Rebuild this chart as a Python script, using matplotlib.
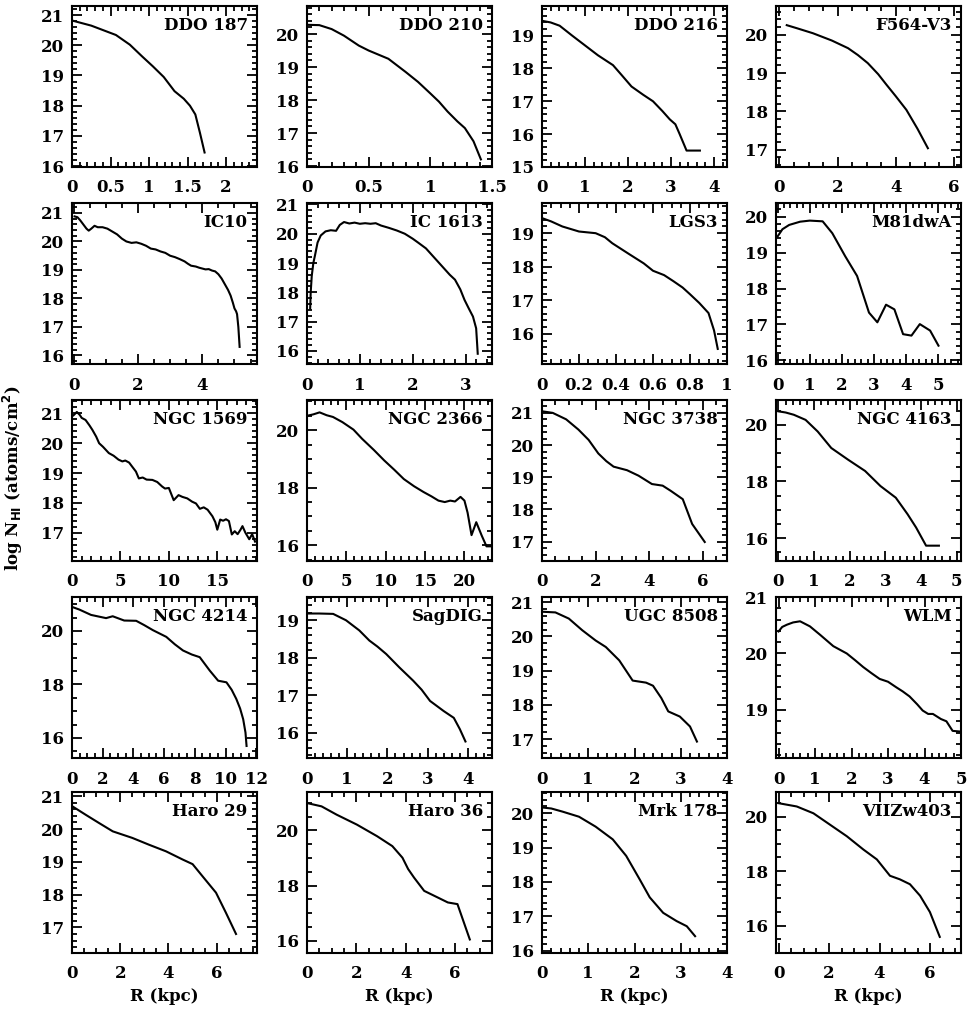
import matplotlib.pyplot as plt
from matplotlib.ticker import MultipleLocator, FuncFormatter

plt.rcParams['font.family'] = 'DejaVu Serif'
plt.rcParams['font.weight'] = 'bold'
plt.rcParams['axes.labelweight'] = 'bold'

names = ['DDO 187', 'DDO 210', 'DDO 216', 'F564-V3',
         'IC10', 'IC 1613', 'LGS3', 'M81dwA',
         'NGC 1569', 'NGC 2366', 'NGC 3738', 'NGC 4163',
         'NGC 4214', 'SagDIG', 'UGC 8508', 'WLM',
         'Haro 29', 'Haro 36', 'Mrk 178', 'VIIZw403']

# radial HI column density profiles: R in kpc, log N_HI in atoms/cm^2
r_ddo187 = [0.0, 0.25, 0.57, 0.75, 0.91, 1.05, 1.19, 1.33, 1.45, 1.53, 1.6, 1.66, 1.72]
n_ddo187 = [20.82, 20.65, 20.34, 20.02, 19.63, 19.3, 18.95, 18.48, 18.23, 18.0, 17.71, 17.1, 16.45]

r_ddo210 = [0.0, 0.1, 0.2, 0.3, 0.42, 0.5, 0.66, 0.8, 0.9, 1.0, 1.07, 1.14, 1.22, 1.28, 1.35, 1.41]
n_ddo210 = [20.28, 20.27, 20.15, 19.95, 19.65, 19.5, 19.25, 18.85, 18.55, 18.2, 17.95, 17.65, 17.35, 17.15, 16.75, 16.2]

r_ddo216 = [0.0, 0.2, 0.41, 0.7, 1.0, 1.3, 1.65, 1.85, 2.08, 2.35, 2.58, 2.8, 2.97, 3.1, 3.2, 3.36, 3.67]
n_ddo216 = [19.45, 19.4, 19.3, 19.0, 18.7, 18.4, 18.1, 17.8, 17.45, 17.2, 17.0, 16.7, 16.45, 16.3, 16.0, 15.5, 15.5]

r_f564 = [0.25, 0.6, 1.15, 1.8, 2.36, 2.7, 3.04, 3.4, 3.68, 4.0, 4.37, 4.75, 5.11]
n_f564 = [20.25, 20.17, 20.04, 19.85, 19.65, 19.47, 19.26, 18.97, 18.7, 18.4, 18.04, 17.55, 17.04]

r_ic10 = [0.03, 0.12, 0.2, 0.3, 0.4, 0.47, 0.55, 0.65, 0.75, 0.9, 1.05, 1.2, 1.35, 1.5, 1.64,
          1.8, 1.95, 2.1, 2.25, 2.4, 2.55, 2.7, 2.85, 3.0, 3.15, 3.3, 3.45, 3.55, 3.65, 3.8,
          3.9, 4.0, 4.1, 4.2, 4.3, 4.4, 4.5, 4.6, 4.7, 4.8, 4.88, 4.95, 5.0, 5.05, 5.08, 5.12, 5.16]
n_ic10 = [20.88, 20.85, 20.75, 20.6, 20.45, 20.38, 20.45, 20.55, 20.5, 20.5, 20.45, 20.35, 20.25, 20.1, 20.0,
          19.95, 19.97, 19.92, 19.85, 19.75, 19.72, 19.65, 19.6, 19.5, 19.45, 19.38, 19.3, 19.22, 19.15, 19.12,
          19.08, 19.05, 19.02, 19.03, 18.98, 18.95, 18.85, 18.7, 18.5, 18.3, 18.1, 17.85, 17.65, 17.55, 17.45, 17.0, 16.3]

r_ic1613 = [0.06, 0.07, 0.09, 0.12, 0.15, 0.2, 0.26, 0.35, 0.45, 0.55, 0.62, 0.7, 0.8, 0.9, 1.0,
            1.1, 1.2, 1.3, 1.4, 1.55, 1.7, 1.85, 2.0, 2.1, 2.25, 2.4, 2.5, 2.6, 2.7, 2.8,
            2.9, 2.98, 3.06, 3.14, 3.2, 3.22, 3.23]
n_ic1613 = [17.45, 18.0, 18.56, 19.0, 19.25, 19.7, 19.94, 20.08, 20.12, 20.1, 20.3, 20.4, 20.35, 20.38, 20.34,
            20.36, 20.34, 20.36, 20.28, 20.2, 20.11, 20.0, 19.83, 19.7, 19.5, 19.2, 19.0, 18.8, 18.6, 18.43,
            18.1, 17.74, 17.45, 17.17, 16.77, 16.2, 15.9]

r_lgs3 = [0.0, 0.05, 0.11, 0.2, 0.29, 0.34, 0.38, 0.47, 0.55, 0.6, 0.66, 0.71, 0.76, 0.8, 0.85, 0.9, 0.93, 0.95]
n_lgs3 = [19.45, 19.35, 19.2, 19.05, 19.0, 18.88, 18.7, 18.38, 18.1, 17.88, 17.75, 17.57, 17.38, 17.18, 16.92, 16.62, 16.1, 15.55]

r_m81dwa = [0.0, 0.15, 0.36, 0.7, 1.0, 1.4, 1.7, 2.1, 2.47, 2.84, 3.1, 3.37, 3.63, 3.9, 4.16, 4.42, 4.74, 5.0]
n_m81dwa = [19.45, 19.65, 19.77, 19.86, 19.89, 19.87, 19.54, 18.9, 18.35, 17.33, 17.06, 17.55, 17.42, 16.73, 16.69, 17.01, 16.83, 16.41]

r_ngc1569 = [0.0, 0.2, 0.5, 0.8, 1.0, 1.4, 1.8, 2.1, 2.5, 2.8, 3.2, 3.8, 4.3, 4.8, 5.2, 5.5, 5.9, 6.2,
             6.6, 6.9, 7.3, 7.7, 8.3, 8.8, 9.3, 9.6, 10.0, 10.5, 11.0, 11.4, 11.9, 12.4, 12.8, 13.2,
             13.6, 14.0, 14.5, 14.8, 15.0, 15.3, 15.6, 15.9, 16.2, 16.5, 16.8, 17.1, 17.4, 17.6, 17.9,
             18.3, 18.6, 18.9]
n_ngc1569 = [20.9, 20.95, 21.05, 20.95, 20.85, 20.78, 20.6, 20.45, 20.22, 20.0, 19.88, 19.67, 19.58, 19.45,
             19.39, 19.42, 19.35, 19.22, 19.05, 18.82, 18.85, 18.78, 18.77, 18.7, 18.55, 18.48, 18.5, 18.09,
             18.26, 18.2, 18.15, 18.04, 17.98, 17.8, 17.85, 17.77, 17.55, 17.35, 17.1, 17.44, 17.4, 17.45,
             17.39, 16.94, 17.05, 16.95, 17.1, 17.22, 17.0, 16.78, 16.95, 16.7]

r_ngc2366 = [0.0, 0.8, 1.6, 2.5, 3.3, 4.5, 5.9, 7.0, 8.5, 9.8, 11.1, 12.3, 13.6, 14.8, 15.8, 16.7,
             17.5, 18.2, 18.8, 19.5, 20.0, 20.4, 20.9, 21.5, 22.2, 22.8, 23.3]
n_ngc2366 = [20.5, 20.55, 20.62, 20.52, 20.46, 20.28, 20.02, 19.7, 19.31, 18.95, 18.62, 18.3, 18.05,
             17.85, 17.7, 17.55, 17.5, 17.55, 17.52, 17.68, 17.55, 17.13, 16.35, 16.8, 16.33, 15.96, 15.96]

r_ngc3738 = [0.0, 0.4, 0.9, 1.36, 1.74, 2.1, 2.4, 2.67, 3.17, 3.6, 4.1, 4.5, 4.8, 5.25, 5.6, 6.07]
n_ngc3738 = [21.05, 21.0, 20.8, 20.48, 20.16, 19.74, 19.5, 19.33, 19.22, 19.05, 18.79, 18.74, 18.58, 18.32, 17.55, 16.99]

r_ngc4163 = [0.0, 0.2, 0.43, 0.76, 1.1, 1.48, 1.95, 2.43, 2.86, 3.29, 3.62, 3.86, 4.14, 4.5]
n_ngc4163 = [20.47, 20.43, 20.35, 20.17, 19.76, 19.18, 18.77, 18.37, 17.84, 17.43, 16.85, 16.38, 15.74, 15.74]

r_ngc4214 = [0.0, 0.48, 1.24, 2.22, 2.65, 3.4, 4.18, 4.7, 5.27, 6.14, 6.7, 7.23, 7.8, 8.32, 8.97,
             9.52, 10.06, 10.4, 10.7, 10.95, 11.15, 11.3, 11.37]
n_ngc4214 = [20.9, 20.8, 20.6, 20.48, 20.55, 20.39, 20.38, 20.22, 20.03, 19.78, 19.5, 19.27, 19.12,
             19.02, 18.52, 18.14, 18.08, 17.8, 17.46, 17.1, 16.7, 16.2, 15.7]

r_sagdig = [0.0, 0.3, 0.65, 0.97, 1.3, 1.55, 1.75, 1.97, 2.3, 2.64, 2.85, 3.06, 3.4, 3.65, 3.8, 3.94]
n_sagdig = [19.18, 19.18, 19.17, 19.0, 18.73, 18.46, 18.3, 18.1, 17.74, 17.39, 17.15, 16.85, 16.58, 16.4, 16.1, 15.77]

r_ugc8508 = [0.0, 0.29, 0.58, 0.87, 1.16, 1.38, 1.67, 1.96, 2.25, 2.4, 2.58, 2.73, 2.98, 3.2, 3.35]
n_ugc8508 = [20.72, 20.7, 20.52, 20.18, 19.88, 19.69, 19.3, 18.71, 18.65, 18.56, 18.2, 17.81, 17.66, 17.37, 16.93]

r_wlm = [0.0, 0.1, 0.23, 0.4, 0.59, 0.86, 1.14, 1.5, 1.87, 2.1, 2.32, 2.55, 2.77, 3.0, 3.23, 3.4,
         3.59, 3.8, 3.95, 4.1, 4.23, 4.45, 4.6, 4.77, 4.95]
n_wlm = [20.39, 20.47, 20.51, 20.55, 20.57, 20.48, 20.33, 20.13, 20.0, 19.88, 19.76, 19.65, 19.55,
         19.5, 19.4, 19.33, 19.24, 19.1, 18.99, 18.93, 18.93, 18.84, 18.8, 18.63, 18.62]

r_haro29 = [0.0, 0.58, 1.13, 1.69, 2.5, 3.2, 3.9, 4.59, 5.0, 5.4, 5.97, 6.38, 6.8]
n_haro29 = [20.7, 20.43, 20.18, 19.93, 19.73, 19.52, 19.32, 19.07, 18.93, 18.57, 18.06, 17.45, 16.8]

r_haro36 = [0.0, 0.59, 1.2, 2.02, 2.84, 3.46, 3.87, 4.1, 4.34, 4.75, 5.3, 5.71, 6.1, 6.6]
n_haro36 = [20.99, 20.87, 20.57, 20.21, 19.79, 19.43, 19.01, 18.6, 18.29, 17.81, 17.57, 17.39, 17.33, 16.05]

r_mrk178 = [0.0, 0.2, 0.44, 0.8, 1.16, 1.53, 1.82, 2.11, 2.33, 2.62, 2.91, 3.13, 3.31]
n_mrk178 = [20.17, 20.14, 20.05, 19.9, 19.61, 19.24, 18.76, 18.08, 17.55, 17.1, 16.86, 16.71, 16.42]

r_viizw403 = [0.0, 0.72, 1.38, 2.04, 2.7, 3.36, 3.89, 4.41, 4.8, 5.2, 5.6, 5.99, 6.38]
n_viizw403 = [20.49, 20.37, 20.12, 19.7, 19.28, 18.79, 18.43, 17.83, 17.7, 17.52, 17.1, 16.5, 15.59]

radii = [r_ddo187, r_ddo210, r_ddo216, r_f564, r_ic10, r_ic1613, r_lgs3, r_m81dwa,
         r_ngc1569, r_ngc2366, r_ngc3738, r_ngc4163, r_ngc4214, r_sagdig, r_ugc8508, r_wlm,
         r_haro29, r_haro36, r_mrk178, r_viizw403]
logn = [n_ddo187, n_ddo210, n_ddo216, n_f564, n_ic10, n_ic1613, n_lgs3, n_m81dwa,
        n_ngc1569, n_ngc2366, n_ngc3738, n_ngc4163, n_ngc4214, n_sagdig, n_ugc8508, n_wlm,
        n_haro29, n_haro36, n_mrk178, n_viizw403]

# per panel: x range, y range, (x major, x minor), (y major, y minor)
frames = [
    ((0, 2.4), (15.97, 21.3), (0.5, 0.1), (1, 0.2)),
    ((0, 1.5), (15.97, 20.85), (0.5, 0.1), (1, 0.2)),
    ((0, 4.3), (15.0, 19.9), (1, 0.2), (1, 0.2)),
    ((-0.12, 6.25), (16.55, 20.75), (2, 0.5), (1, 0.2)),
    ((-0.05, 5.7), (15.7, 21.35), (2, 0.5), (1, 0.2)),
    ((0, 3.5), (15.55, 21.05), (1, 0.2), (1, 0.2)),
    ((0, 1.0), (15.1, 19.9), (0.2, 0.05), (1, 0.2)),
    ((-0.05, 5.7), (15.9, 20.38), (1, 0.2), (1, 0.2)),
    ((0, 19.1), (16.05, 21.45), (5, 1), (1, 0.2)),
    ((0, 23.5), (15.45, 21.05), (5, 1), (2, 0.5)),
    ((0, 6.9), (16.4, 21.4), (2, 0.5), (1, 0.2)),
    ((-0.07, 5.12), (15.2, 20.87), (1, 0.2), (2, 0.5)),
    ((0, 12.05), (15.25, 21.27), (2, 0.5), (2, 0.5)),
    ((0, 4.6), (15.33, 19.62), (1, 0.2), (1, 0.2)),
    ((0, 4.0), (16.45, 21.15), (1, 0.2), (1, 0.2)),
    ((-0.07, 5.0), (18.15, 21.0), (1, 0.2), (1, 0.2)),
    ((0, 7.67), (16.22, 21.13), (2, 0.5), (1, 0.2)),
    ((0, 7.5), (15.56, 21.39), (2, 0.5), (2, 0.5)),
    ((0, 4.0), (15.93, 20.62), (1, 0.2), (1, 0.2)),
    ((-0.1, 7.22), (15.0, 20.9), (2, 0.5), (2, 0.5)),
]

W, H = 967, 1015
lefts = [72, 307, 542, 776]
tops = [6, 203, 400, 597, 792]
pw, ph = 185, 161

fmt = FuncFormatter(lambda v, p: f'{round(v, 3) + 0:g}')

fig = plt.figure(figsize=(W / 100, H / 100), dpi=100)

for i, name in enumerate(names):
    row, col = divmod(i, 4)
    ax = fig.add_axes([lefts[col] / W, 1 - (tops[row] + ph) / H, pw / W, ph / H])
    ax.plot(radii[i], logn[i], color='black', lw=1.5)

    xr, yr, (xmaj, xmin), (ymaj, ymin) = frames[i]
    ax.set_xlim(*xr)
    ax.set_ylim(*yr)
    ax.xaxis.set_major_locator(MultipleLocator(xmaj))
    ax.xaxis.set_minor_locator(MultipleLocator(xmin))
    ax.yaxis.set_major_locator(MultipleLocator(ymaj))
    ax.yaxis.set_minor_locator(MultipleLocator(ymin))
    ax.xaxis.set_major_formatter(fmt)
    ax.yaxis.set_major_formatter(fmt)

    ax.tick_params(which='both', direction='in', top=True, right=True, width=1.3)
    ax.tick_params(which='major', length=7, labelsize=12)
    ax.tick_params(axis='x', which='major', pad=9)
    ax.tick_params(axis='y', which='major', pad=6)
    ax.tick_params(which='minor', length=3.5)
    for s in ax.spines.values():
        s.set_linewidth(1.5)

    ax.text(0.95, 0.93, name, transform=ax.transAxes, ha='right', va='top', fontsize=12)

    if row == 4:
        ax.set_xlabel('R (kpc)', fontsize=12, labelpad=4)

fig.text(0.013, 0.529, r'log N$_{\mathbf{HI}}$ (atoms/cm$^{\mathbf{2}}$)',
         rotation=90, ha='center', va='center', fontsize=12)

fig.savefig('out.png', dpi=100)
